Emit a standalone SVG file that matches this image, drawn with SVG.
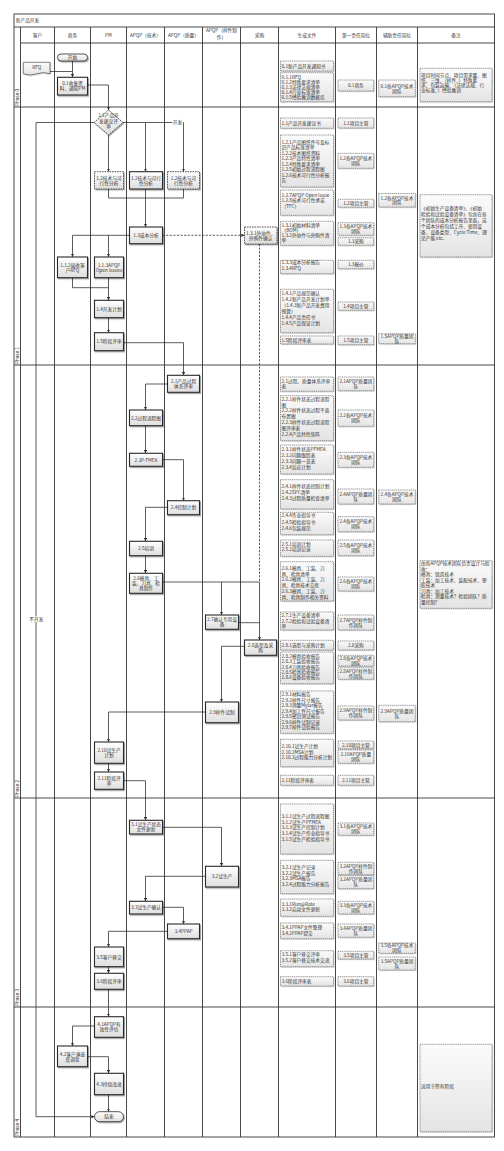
<svg xmlns="http://www.w3.org/2000/svg" width="504" height="1151" viewBox="0 0 504 1151">
<defs>
<style>
.t{font-family:"Noto Sans CJK SC","Noto Sans",sans-serif;font-size:4.7px;fill:#333}
.c{text-anchor:middle}
.ph{font-family:"Liberation Sans",sans-serif;font-size:4.7px;fill:#333}
.ln{stroke:#333;stroke-width:0.9;fill:none}
.cn{stroke:#333;stroke-width:0.8;fill:none}
.cnd{stroke:#333;stroke-width:0.8;fill:none;stroke-dasharray:2.2 1.4}
.nd{fill:url(#gN);stroke:#2a2a2a;stroke-width:1.1;filter:url(#sh)}
.ndd{fill:url(#gN);stroke:#2a2a2a;stroke-width:0.8;stroke-dasharray:1.6 0.9;filter:url(#sh)}
.dc{fill:url(#gD);stroke:#333;stroke-width:0.5;stroke-dasharray:1.2 0.7;filter:url(#sh2)}
</style>
<linearGradient id="gN" x1="0" y1="0" x2="0" y2="1"><stop offset="0" stop-color="#ffffff"/><stop offset="1" stop-color="#dedede"/></linearGradient>
<linearGradient id="gD" x1="0" y1="0" x2="0" y2="1"><stop offset="0" stop-color="#fbfbfb"/><stop offset="1" stop-color="#e4e4e4"/></linearGradient>
<filter id="sh" x="-20%" y="-20%" width="150%" height="160%"><feDropShadow dx="1" dy="1.2" stdDeviation="0.4" flood-color="#000" flood-opacity="0.35"/></filter>
<filter id="sh2" x="-20%" y="-20%" width="150%" height="160%"><feDropShadow dx="0.8" dy="0.8" stdDeviation="0.4" flood-color="#000" flood-opacity="0.2"/></filter>
<marker id="ar" viewBox="0 0 6 6" refX="6" refY="3" markerWidth="3.2" markerHeight="3.2" markerUnits="userSpaceOnUse" orient="auto"><path d="M0,0 L6,3 L0,6 Z" fill="#333"/></marker>
</defs>
<rect width="504" height="1151" fill="#fff"/>

<g id="frame">
<rect x="14" y="14" width="480.5" height="1123" class="ln"/>
<line x1="14" y1="27" x2="494.5" y2="27" class="ln"/>
<line x1="20.5" y1="43" x2="494.5" y2="43" class="ln"/>
<line x1="14" y1="107" x2="494.5" y2="107" class="ln"/>
<line x1="14" y1="365" x2="494.5" y2="365" class="ln"/>
<line x1="14" y1="798" x2="494.5" y2="798" class="ln"/>
<line x1="14" y1="1007" x2="494.5" y2="1007" class="ln"/>
<path class="ln" d="M20.5,27V1137M54.5,27V1137M90.5,27V1137M126.5,27V1137M164.5,27V1137M202.5,27V1137M240.5,27V1137M278.5,27V1137M335.5,27V1137M376.5,27V1137M417.5,27V1137"/>
<text class="t" x="15.8" y="22.2">新产品开发</text>
<text class="t c" x="37.5" y="36.7">客户</text>
<text class="t c" x="72.5" y="36.7">商务</text>
<text class="t c" x="108.5" y="36.7">PM</text>
<text class="t c" x="145.5" y="36.7">APQP（技术）</text>
<text class="t c" x="183.5" y="36.7">APQP（质量）</text>
<text class="t c"><tspan x="221.5" y="32.3">APQP（样件制</tspan><tspan x="221.5" y="38.8">作）</tspan></text>
<text class="t c" x="259.5" y="36.7">采购</text>
<text class="t c" x="307" y="36.7">生成文件</text>
<text class="t c" x="356" y="36.7">第一责任岗位</text>
<text class="t c" x="397" y="36.7">辅助责任岗位</text>
<text class="t c" x="456" y="36.7">备注</text>
<text class="ph" transform="translate(18.9,106) rotate(-90)">Phase 0</text>
<text class="ph" transform="translate(18.9,364) rotate(-90)">Phase 1</text>
<text class="ph" transform="translate(18.9,797) rotate(-90)">Phase 2</text>
<text class="ph" transform="translate(18.9,1006) rotate(-90)">Phase 3</text>
<text class="ph" transform="translate(18.9,1136) rotate(-90)">Phase 4</text>
</g>

<g id="connectors">
<path class="cn" marker-end="url(#ar)" d="M72.5,61V77.3"/>
<path class="cn" d="M50,71.5H72.5"/>
<path class="cn" marker-end="url(#ar)" d="M87.5,85H108.5V110"/>
<path class="cn" marker-end="url(#ar)" d="M108.5,135V171.7"/>
<path class="cn" marker-end="url(#ar)" d="M123,122.5H183.5V171.7"/>
<path class="cn" marker-end="url(#ar)" d="M145.5,122.5V171.7"/>
<path class="cn" marker-end="url(#ar)" d="M94,122.5H36V1116.7H94.5"/>
<path class="cn" d="M108.5,189V198H183.5V189"/>
<path class="cn" marker-end="url(#ar)" d="M145.5,189V227"/>
<path class="cnd" marker-end="url(#ar)" d="M162.5,235.3H244.5"/>
<path class="cn" marker-end="url(#ar)" d="M129.5,235.3H72.5V257"/>
<path class="cn" marker-end="url(#ar)" d="M108.5,235.3V257"/>
<path class="cn" d="M72.5,277.7V287.7H108.5"/>
<path class="cn" marker-end="url(#ar)" d="M108.5,277.7V300.3"/>
<path class="cn" marker-end="url(#ar)" d="M108.5,317.7V332.7"/>
<path class="cn" marker-end="url(#ar)" d="M123.5,342.7H183.5V375.3"/>
<path class="cn" marker-end="url(#ar)" d="M167.5,384H145.5V410"/>
<path class="cn" marker-end="url(#ar)" d="M145.5,425.7V453.3"/>
<path class="cn" marker-end="url(#ar)" d="M162.5,459.7H183.5V500.7"/>
<path class="cn" marker-end="url(#ar)" d="M167.5,507.3H145.5V541.3"/>
<path class="cn" marker-end="url(#ar)" d="M145.5,555.7V573.3"/>
<path class="cn" d="M162.5,582H259.5"/>
<path class="cn" marker-end="url(#ar)" d="M221.5,582V615"/>
<path class="cn" d="M238.5,622.7H259.5"/>
<path class="cnd" d="M259.5,244V582"/>
<path class="cn" marker-end="url(#ar)" d="M259.5,582V640"/>
<path class="cn" marker-end="url(#ar)" d="M244.5,646.3H221.5V702"/>
<path class="cn" marker-end="url(#ar)" d="M205.5,712H108.5V742"/>
<path class="cn" marker-end="url(#ar)" d="M108.5,763.3V772"/>
<path class="cn" marker-end="url(#ar)" d="M123.5,780.7H145.5V820.3"/>
<path class="cn" marker-end="url(#ar)" d="M162.5,827.3H221.5V866.3"/>
<path class="cn" marker-end="url(#ar)" d="M205.5,876.3H145.5V901.3"/>
<path class="cn" marker-end="url(#ar)" d="M162.5,907.3H183.5V924"/>
<path class="cn" marker-end="url(#ar)" d="M167.5,931.3H108.5V947"/>
<path class="cn" marker-end="url(#ar)" d="M108.5,966.7V973.3"/>
<path class="cn" marker-end="url(#ar)" d="M108.5,989.3V1016.7"/>
<path class="cn" marker-end="url(#ar)" d="M94.5,1026H72.5V1046"/>
<path class="cn" marker-end="url(#ar)" d="M87.5,1056.7H108.5V1073.3"/>
<path class="cn" marker-end="url(#ar)" d="M108.5,1094.7V1111.7"/>
<rect x="172.3" y="119.6" width="10.4" height="5.8" fill="#fff"/>
<text class="t c" x="177.5" y="124.3">开发</text>
<rect x="29.3" y="616.3" width="14" height="5.8" fill="#fff"/>
<text class="t c" x="36.3" y="621">不开发</text>
</g>

<g id="n-start"><rect x="57.5" y="54" width="30" height="7" rx="3.5" class="nd" style="stroke-width:0.8"/><text class="t c" x="72.5" y="59.2">开始</text></g>
<g id="n-rfq"><path d="M23.3,62.3H50V73.8Q43.5,71.3 36.7,73.8T23.3,73.8Z" class="dc" style="stroke-dasharray:none;stroke-width:0.6"/><text class="t c" x="36.7" y="69.4">RFQ</text></g>
<g id="n-01"><rect x="57.5" y="77.3" width="30" height="17.7" class="nd"/><text class="t c"><tspan x="72.5" y="85.4">0.1收集资</tspan><tspan x="72.5" y="90.3">料、通知PM</tspan></text></g>
<g id="n-11"><polygon points="108.5,110 123,122.5 108.5,135 94,122.5" class="nd" style="stroke-dasharray:1.6 0.9;stroke-width:0.8"/><text class="t c"><tspan x="108.5" y="117.2">1.1产品开</tspan><tspan x="108.5" y="122.6">发建议评</tspan><tspan x="108.5" y="128">审</tspan></text></g>
<g id="n-12a"><rect x="94.5" y="171.7" width="29" height="17.3" class="ndd"/><text class="t c"><tspan x="109" y="179.6">1.2技术与可</tspan><tspan x="109" y="184.5">行性分析</tspan></text></g>
<g id="n-12b"><rect x="129.5" y="171.7" width="33" height="17.3" class="nd"/><text class="t c"><tspan x="146" y="179.6">1.2技术与可行</tspan><tspan x="146" y="184.5">性分析</tspan></text></g>
<g id="n-12c"><rect x="167.5" y="171.7" width="32" height="17.3" class="ndd"/><text class="t c"><tspan x="183.5" y="179.6">1.2技术与可</tspan><tspan x="183.5" y="184.5">行性分析</tspan></text></g>
<g id="n-13"><rect x="129.5" y="227" width="33" height="16.7" class="nd"/><text class="t c" x="146" y="237.05">1.3成本分析</text></g>
<g id="n-131"><rect x="244.5" y="227" width="32.5" height="17" class="ndd"/><text class="t c"><tspan x="260.7" y="234.75">1.3.1外协件、</tspan><tspan x="260.7" y="239.65">外购件确认</tspan></text></g>
<g id="n-112"><rect x="57.5" y="257" width="30" height="20.7" class="nd"/><text class="t c"><tspan x="72.5" y="266.6">1.1.2接收客</tspan><tspan x="72.5" y="271.5">户RFQ</tspan></text></g>
<g id="n-113"><rect x="94.5" y="257" width="29" height="20.7" class="nd"/><text class="t c"><tspan x="109" y="266.6">1.1.3APQP</tspan><tspan x="109" y="271.5">Open Issues</tspan></text></g>
<g id="n-14"><rect x="94.5" y="300.3" width="29" height="17.4" class="nd"/><text class="t c" x="109" y="310.7">1.4开发计划</text></g>
<g id="n-15"><rect x="94.5" y="332.7" width="29" height="18" class="nd"/><text class="t c" x="109" y="343.4">1.5阶段评审</text></g>
<g id="n-21"><rect x="167.5" y="375.3" width="32" height="17" class="nd"/><text class="t c"><tspan x="183.5" y="383.05">2.1产品过程</tspan><tspan x="183.5" y="387.95">体系评审</tspan></text></g>
<g id="n-22"><rect x="129.5" y="410" width="33" height="15.7" class="nd"/><text class="t c" x="146" y="419.55">2.2过程流程图</text></g>
<g id="n-23"><rect x="129.5" y="453.3" width="33" height="13" class="nd"/><text class="t c" x="146" y="461.5">2.3P-FMEA</text></g>
<g id="n-24"><rect x="167.5" y="500.7" width="32" height="14" class="nd"/><text class="t c" x="183.5" y="509.4">2.4控制计划</text></g>
<g id="n-25"><rect x="129.5" y="541.3" width="33" height="14.4" class="nd"/><text class="t c" x="146" y="550.2">2.5培训</text></g>
<g id="n-26"><rect x="129.5" y="573.3" width="33" height="20" class="nd"/><text class="t c"><tspan x="146" y="580.1">2.6模具、工</tspan><tspan x="146" y="585">装、刀具、检</tspan><tspan x="146" y="589.9">具制作</tspan></text></g>
<g id="n-27"><rect x="205.5" y="615" width="33" height="14.3" class="nd"/><text class="t c"><tspan x="222" y="621.4">2.7确认专用设</tspan><tspan x="222" y="626.3">备</tspan></text></g>
<g id="n-28"><rect x="244.5" y="640" width="32" height="15.3" class="nd"/><text class="t c"><tspan x="260.5" y="646.9">2.8选型及采</tspan><tspan x="260.5" y="651.8">购</tspan></text></g>
<g id="n-29"><rect x="205.5" y="702" width="33" height="20.7" class="nd"/><text class="t c" x="222" y="714.05">2.9样件试制</text></g>
<g id="n-210"><rect x="94.5" y="742" width="29" height="21.3" class="nd"/><text class="t c"><tspan x="109" y="751.9">2.10试生产</tspan><tspan x="109" y="756.8">计划</tspan></text></g>
<g id="n-211"><rect x="94.5" y="772" width="29" height="17.3" class="nd"/><text class="t c"><tspan x="109" y="779.9">2.11阶段评</tspan><tspan x="109" y="784.8">审</tspan></text></g>
<g id="n-31"><rect x="129.5" y="820.3" width="33" height="13.7" class="nd"/><text class="t c"><tspan x="146" y="826.4">3.1试生产状态</tspan><tspan x="146" y="831.3">文件更新</tspan></text></g>
<g id="n-32"><rect x="205.5" y="866.3" width="33" height="20.7" class="nd"/><text class="t c" x="222" y="878.35">3.2试生产</text></g>
<g id="n-33"><rect x="129.5" y="901.3" width="33" height="12.7" class="nd"/><text class="t c" x="146" y="909.35">3.3试生产确认</text></g>
<g id="n-34"><rect x="167.5" y="924" width="32" height="14.7" class="nd"/><text class="t c" x="183.5" y="933.05">3.4PPAP</text></g>
<g id="n-35"><rect x="94.5" y="947" width="29" height="19.7" class="nd"/><text class="t c" x="109" y="958.55">3.5客户移交</text></g>
<g id="n-36"><rect x="94.5" y="973.3" width="29" height="16" class="nd"/><text class="t c" x="109" y="983">3.6阶段评审</text></g>
<g id="n-41"><rect x="94.5" y="1016.7" width="29" height="20.6" class="nd"/><text class="t c"><tspan x="109" y="1026.25">4.1APQP有</tspan><tspan x="109" y="1031.15">效性评估</tspan></text></g>
<g id="n-42"><rect x="57.5" y="1046" width="30" height="20.7" class="nd"/><text class="t c"><tspan x="72.5" y="1055.6">4.2客户满意</tspan><tspan x="72.5" y="1060.5">度调查</tspan></text></g>
<g id="n-43"><rect x="94.5" y="1073.3" width="29" height="21.4" class="nd"/><text class="t c" x="109" y="1085.7">4.3持续改进</text></g>
<g id="n-end"><rect x="94.5" y="1111.7" width="29" height="10" rx="5" class="nd" style="stroke-width:0.8"/><text class="t c" x="109" y="1118.4">结束</text></g>

<g id="docs">
<g id="d-0a"><rect x="280.5" y="61" width="53" height="10" class="dc"/><text class="t" x="281.5" y="67.7">0.1新产品开发通知书</text></g>
<g id="d-0b"><rect x="280.5" y="72.7" width="53" height="29" class="dc"/><text class="t"><tspan x="281.5" y="79.1">0.1.1RFQ</tspan><tspan x="281.5" y="84">0.1.2特殊要求清单</tspan><tspan x="281.5" y="88.9">0.1.3法律法规清单</tspan><tspan x="281.5" y="93.8">0.1.4行业标准清单</tspan><tspan x="281.5" y="98.7">0.1.5经验教训数据库</tspan></text></g>
<g id="d-1a"><rect x="280.5" y="118" width="53" height="10.3" class="dc"/><text class="t" x="281.5" y="124.85">1.1产品开发建议书</text></g>
<g id="d-1b"><rect x="280.5" y="135" width="53" height="52" class="dc"/><text class="t"><tspan x="281.5" y="143.5">1.2.1产品图纸件号及标</tspan><tspan x="281.5" y="149">识产品标准清单</tspan><tspan x="281.5" y="154.5">1.2.2技术图纸资料</tspan><tspan x="281.5" y="160">1.2.3产品特性清单</tspan><tspan x="281.5" y="165.5">1.2.4特殊要求清单</tspan><tspan x="281.5" y="171">1.2.5初始过程流程图</tspan><tspan x="281.5" y="176.5">1.2.6技术可行性分析报</tspan><tspan x="281.5" y="182">告</tspan></text></g>
<g id="d-1c"><rect x="280.5" y="190" width="53" height="25.3" class="dc"/><text class="t"><tspan x="281.5" y="196.5">1.2.7APQP Open Issue</tspan><tspan x="281.5" y="202.3">1.2.8技术可行性承诺</tspan><tspan x="281.5" y="208.1">（TFC）</tspan></text></g>
<g id="d-1d"><rect x="280.5" y="221.3" width="53" height="24" class="dc"/><text class="t"><tspan x="281.5" y="227">1.3.1初始材料清单</tspan><tspan x="281.5" y="232">（BOM）</tspan><tspan x="281.5" y="237">1.3.2外协件与外购件清</tspan><tspan x="281.5" y="242">单</tspan></text></g>
<g id="d-1e"><rect x="280.5" y="260.3" width="53" height="13.4" class="dc"/><text class="t"><tspan x="281.5" y="264.4">1.3.3成本分析报告</tspan><tspan x="281.5" y="269.7">1.3.4RFQ</tspan></text></g>
<g id="d-1f"><rect x="280.5" y="289.3" width="53" height="43.4" class="dc"/><text class="t"><tspan x="281.5" y="295.4">1.4.1产品规范确认</tspan><tspan x="281.5" y="301.4">1.4.2新产品开发计划单</tspan><tspan x="281.5" y="307.4">（1.4.3新产品开发费用</tspan><tspan x="281.5" y="313.4">预算）</tspan><tspan x="281.5" y="319.4">1.4.4产品责任书</tspan><tspan x="281.5" y="325.4">1.4.5产品保证计划</tspan></text></g>
<g id="d-1g"><rect x="280.5" y="336" width="53" height="8" class="dc"/><text class="t" x="281.5" y="341.7">1.5阶段评审表</text></g>
<g id="d-2a"><rect x="280.5" y="377" width="53" height="14.3" class="dc"/><text class="t"><tspan x="281.5" y="383.4">2.1过程、质量体系评审</tspan><tspan x="281.5" y="388.3">表</tspan></text></g>
<g id="d-2b"><rect x="280.5" y="395.7" width="53" height="45" class="dc"/><text class="t"><tspan x="281.5" y="400.7">2.2.1样件状态过程流程</tspan><tspan x="281.5" y="406.5">图</tspan><tspan x="281.5" y="412.4">2.2.2样件状态过程平面</tspan><tspan x="281.5" y="418.2">布置图</tspan><tspan x="281.5" y="424">2.2.3样件状态过程流程</tspan><tspan x="281.5" y="429.9">图评审表</tspan><tspan x="281.5" y="435.7">2.2.4产品特性矩阵</tspan></text></g>
<g id="d-2c"><rect x="280.5" y="445" width="53" height="29" class="dc"/><text class="t"><tspan x="281.5" y="451.4">2.3.1样件状态PFMEA</tspan><tspan x="281.5" y="457.3">2.3.2问题跟踪表</tspan><tspan x="281.5" y="463.1">2.3.3问题一览表</tspan><tspan x="281.5" y="469">2.3.4反应计划</tspan></text></g>
<g id="d-2d"><rect x="280.5" y="479.7" width="53" height="29.3" class="dc"/><text class="t"><tspan x="281.5" y="488.4">2.4.1样件状态控制计划</tspan><tspan x="281.5" y="494.2">2.4.2SPC清单</tspan><tspan x="281.5" y="500">2.4.3过程质量检查清单</tspan></text></g>
<g id="d-2e"><rect x="280.5" y="512.3" width="53" height="22.4" class="dc"/><text class="t"><tspan x="281.5" y="517.4">2.4.4作业指导书</tspan><tspan x="281.5" y="523.5">2.4.5检验指导书</tspan><tspan x="281.5" y="529.6">2.4.6包装规范</tspan></text></g>
<g id="d-2f"><rect x="280.5" y="540" width="53" height="16.3" class="dc"/><text class="t"><tspan x="281.5" y="545.7">2.5.1培训计划</tspan><tspan x="281.5" y="551.4">2.5.2培训记录</tspan></text></g>
<g id="d-2g"><rect x="280.5" y="561.7" width="53" height="39.3" class="dc"/><text class="t"><tspan x="281.5" y="570">2.6.1模具、工装、刀</tspan><tspan x="281.5" y="575.7">具、检具清单</tspan><tspan x="281.5" y="581.4">2.6.2模具、工装、刀</tspan><tspan x="281.5" y="587.1">具、检具技术交底</tspan><tspan x="281.5" y="592.8">2.6.3模具、工装、刀</tspan><tspan x="281.5" y="598.5">具、检具制作相关资料</tspan></text></g>
<g id="d-2h"><rect x="280.5" y="612" width="53" height="18" class="dc"/><text class="t"><tspan x="281.5" y="617">2.7.1生产设备清单</tspan><tspan x="281.5" y="622.5">2.7.2检验和试验设备清</tspan><tspan x="281.5" y="628">单</tspan></text></g>
<g id="d-2i"><rect x="280.5" y="640.3" width="53" height="9.7" class="dc"/><text class="t" x="281.5" y="646.85">2.8.1选型与采购计划</text></g>
<g id="d-2j"><rect x="280.5" y="652" width="53" height="31.7" class="dc"/><text class="t"><tspan x="281.5" y="657.7">2.8.2模具验收报告</tspan><tspan x="281.5" y="663.1">2.8.3工装验收报告</tspan><tspan x="281.5" y="668.5">2.8.4刀具验收报告</tspan><tspan x="281.5" y="673.9">2.8.5检具验收报告</tspan><tspan x="281.5" y="679.3">2.8.6设备验收报告</tspan></text></g>
<g id="d-2k"><rect x="280.5" y="691" width="53" height="42.3" class="dc"/><text class="t"><tspan x="281.5" y="696">2.9.1材料报告</tspan><tspan x="281.5" y="701.6">2.9.2样件尺寸报告</tspan><tspan x="281.5" y="707.1">2.9.3测量Mylar报告</tspan><tspan x="281.5" y="712.7">2.9.4加工件尺寸报告</tspan><tspan x="281.5" y="718.3">2.9.5密封测试报告</tspan><tspan x="281.5" y="723.9">2.9.6样件试制记录</tspan><tspan x="281.5" y="729.4">2.9.7样件试验报告</tspan></text></g>
<g id="d-2l"><rect x="280.5" y="739.3" width="53" height="27.4" class="dc"/><text class="t"><tspan x="281.5" y="747.7">2.10.1试生产计划</tspan><tspan x="281.5" y="753.5">2.10.2MSA计划</tspan><tspan x="281.5" y="759.3">2.10.3过程能力分析计划</tspan></text></g>
<g id="d-2m"><rect x="280.5" y="775.3" width="53" height="10" class="dc"/><text class="t" x="281.5" y="782">2.11阶段评审表</text></g>
<g id="d-3a"><rect x="280.5" y="804" width="53" height="50" class="dc"/><text class="t"><tspan x="281.5" y="818">3.1.1试生产过程流程图</tspan><tspan x="281.5" y="823.7">3.1.2试生产PFMEA</tspan><tspan x="281.5" y="829.4">3.1.3试生产控制计划</tspan><tspan x="281.5" y="835.1">3.1.4试生产作业指导书</tspan><tspan x="281.5" y="840.8">3.1.5试生产检验指导书</tspan></text></g>
<g id="d-3b"><rect x="280.5" y="860.3" width="53" height="33.4" class="dc"/><text class="t"><tspan x="281.5" y="868.7">3.2.1试生产记录</tspan><tspan x="281.5" y="874.5">3.2.2试生产报告</tspan><tspan x="281.5" y="880.3">3.2.3MSA报告</tspan><tspan x="281.5" y="886.1">3.2.4过程能力分析报告</tspan></text></g>
<g id="d-3c"><rect x="280.5" y="899" width="53" height="17.3" class="dc"/><text class="t"><tspan x="281.5" y="905.7">3.3.1Run@Rate</tspan><tspan x="281.5" y="911.4">3.3.2启动文件更新</tspan></text></g>
<g id="d-3d"><rect x="280.5" y="923" width="53" height="15.7" class="dc"/><text class="t"><tspan x="281.5" y="929">3.4.1PPAP文件整理</tspan><tspan x="281.5" y="934.7">3.4.2PPAP提交</tspan></text></g>
<g id="d-3e"><rect x="280.5" y="950.7" width="53" height="16" class="dc"/><text class="t"><tspan x="281.5" y="956.2">3.5.1客户移交评审</tspan><tspan x="281.5" y="961.9">3.5.2客户移交技术交流</tspan></text></g>
<g id="d-3f"><rect x="280.5" y="976.7" width="53" height="9.3" class="dc"/><text class="t" x="281.5" y="983">3.6阶段评审表</text></g>
</g>

<g id="owners">
<g id="f-01"><rect x="338" y="80" width="35.7" height="11" class="dc"/><text class="t c" x="355.85" y="87.2">0.1商务</text></g>
<g id="f-11"><rect x="338" y="118" width="35.7" height="10" class="dc"/><text class="t c" x="355.85" y="124.7">1.1项目主管</text></g>
<g id="f-12a"><rect x="338" y="153.3" width="35.7" height="15" class="dc"/><text class="t c"><tspan x="355.85" y="160.05">1.2各APQP技术</tspan><tspan x="355.85" y="164.95">团队</tspan></text></g>
<g id="f-12b"><rect x="338" y="199.3" width="35.7" height="8" class="dc"/><text class="t c" x="355.85" y="205">1.2项目主管</text></g>
<g id="f-13a"><rect x="338" y="222.7" width="35.7" height="12.6" class="dc"/><text class="t c"><tspan x="355.85" y="228.25">1.3各APQP技术</tspan><tspan x="355.85" y="233.15">团队</tspan></text></g>
<g id="f-13b"><rect x="338" y="237.7" width="35.7" height="7.6" class="dc"/><text class="t c" x="355.85" y="243.2">1.3采购</text></g>
<g id="f-13c"><rect x="338" y="260.3" width="35.7" height="8.4" class="dc"/><text class="t c" x="355.85" y="266.2">1.3报价</text></g>
<g id="f-14"><rect x="338" y="302" width="35.7" height="8.3" class="dc"/><text class="t c" x="355.85" y="307.85">1.4项目主管</text></g>
<g id="f-15"><rect x="338" y="336" width="35.7" height="8.7" class="dc"/><text class="t c" x="355.85" y="342.05">1.5项目主管</text></g>
<g id="f-21"><rect x="338" y="377" width="35.7" height="13.7" class="dc"/><text class="t c"><tspan x="355.85" y="383.1">2.1APQP质量团</tspan><tspan x="355.85" y="388">队</tspan></text></g>
<g id="f-22"><rect x="338" y="410" width="35.7" height="16.3" class="dc"/><text class="t c"><tspan x="355.85" y="417.4">2.2各APQP技术</tspan><tspan x="355.85" y="422.3">团队</tspan></text></g>
<g id="f-23"><rect x="338" y="452.3" width="35.7" height="15" class="dc"/><text class="t c"><tspan x="355.85" y="459.05">2.3各APQP技术</tspan><tspan x="355.85" y="463.95">团队</tspan></text></g>
<g id="f-24a"><rect x="338" y="489" width="35.7" height="15" class="dc"/><text class="t c"><tspan x="355.85" y="495.75">2.4APQP质量团</tspan><tspan x="355.85" y="500.65">队</tspan></text></g>
<g id="f-24b"><rect x="338" y="516.7" width="35.7" height="15" class="dc"/><text class="t c"><tspan x="355.85" y="523.45">2.4各APQP技术</tspan><tspan x="355.85" y="528.35">团队</tspan></text></g>
<g id="f-25"><rect x="338" y="540" width="35.7" height="15.7" class="dc"/><text class="t c"><tspan x="355.85" y="547.1">2.5各APQP技术</tspan><tspan x="355.85" y="552">团队</tspan></text></g>
<g id="f-26"><rect x="338" y="577" width="35.7" height="14" class="dc"/><text class="t c"><tspan x="355.85" y="583.25">2.6各APQP技术</tspan><tspan x="355.85" y="588.15">团队</tspan></text></g>
<g id="f-27"><rect x="338" y="615" width="35.7" height="15" class="dc"/><text class="t c"><tspan x="355.85" y="621.75">2.7APQP样件制</tspan><tspan x="355.85" y="626.65">作团队</tspan></text></g>
<g id="f-28a"><rect x="338" y="641" width="35.7" height="9" class="dc"/><text class="t c" x="355.85" y="647.2">2.8采购</text></g>
<g id="f-28b"><rect x="338" y="655.3" width="35.7" height="10.7" class="dc"/><text class="t c"><tspan x="355.85" y="659.9">2.8各APQP技术</tspan><tspan x="355.85" y="664.8">团队</tspan></text></g>
<g id="f-28c"><rect x="338" y="667.7" width="35.7" height="11.6" class="dc"/><text class="t c"><tspan x="355.85" y="672.75">2.8APQP样件制</tspan><tspan x="355.85" y="677.65">作团队</tspan></text></g>
<g id="f-29"><rect x="338" y="706" width="35.7" height="14" class="dc"/><text class="t c"><tspan x="355.85" y="712.25">2.9APQP样件制</tspan><tspan x="355.85" y="717.15">作团队</tspan></text></g>
<g id="f-210a"><rect x="338" y="741" width="35.7" height="7.7" class="dc"/><text class="t c" x="355.85" y="746.55">2.10项目主管</text></g>
<g id="f-210b"><rect x="338" y="750" width="35.7" height="13.3" class="dc"/><text class="t c"><tspan x="355.85" y="755.9">2.10APQP质量</tspan><tspan x="355.85" y="760.8">团队</tspan></text></g>
<g id="f-211"><rect x="338" y="775.3" width="35.7" height="10" class="dc"/><text class="t c" x="355.85" y="782">2.11项目主管</text></g>
<g id="f-31"><rect x="338" y="823" width="35.7" height="12.3" class="dc"/><text class="t c"><tspan x="355.85" y="828.4">3.1各APQP技术</tspan><tspan x="355.85" y="833.3">团队</tspan></text></g>
<g id="f-32a"><rect x="338" y="862.3" width="35.7" height="12.4" class="dc"/><text class="t c"><tspan x="355.85" y="867.75">3.2APQP样件制</tspan><tspan x="355.85" y="872.65">作团队</tspan></text></g>
<g id="f-32b"><rect x="338" y="875.7" width="35.7" height="13" class="dc"/><text class="t c"><tspan x="355.85" y="881.45">3.2APQP质量团</tspan><tspan x="355.85" y="886.35">队</tspan></text></g>
<g id="f-33"><rect x="338" y="901.3" width="35.7" height="12.7" class="dc"/><text class="t c"><tspan x="355.85" y="906.9">3.3各APQP技术</tspan><tspan x="355.85" y="911.8">团队</tspan></text></g>
<g id="f-34"><rect x="338" y="924" width="35.7" height="13.3" class="dc"/><text class="t c"><tspan x="355.85" y="929.9">3.4APQP质量团</tspan><tspan x="355.85" y="934.8">队</tspan></text></g>
<g id="f-35"><rect x="338" y="951.3" width="35.7" height="7.7" class="dc"/><text class="t c" x="355.85" y="956.85">3.5项目主管</text></g>
<g id="f-36"><rect x="338" y="976.7" width="35.7" height="9.3" class="dc"/><text class="t c" x="355.85" y="983.05">3.6项目主管</text></g>
</g>

<g id="assist">
<g id="a-01"><rect x="378.7" y="80" width="36.6" height="16.7" class="dc"/><text class="t c"><tspan x="397" y="87.6">0.1各APQP技术</tspan><tspan x="397" y="92.5">团队</tspan></text></g>
<g id="a-12"><rect x="378.7" y="193.5" width="36.6" height="13.5" class="dc"/><text class="t c"><tspan x="397" y="199.5">1.2各APQP技术</tspan><tspan x="397" y="204.4">团队</tspan></text></g>
<g id="a-15"><rect x="378.7" y="333.7" width="36.6" height="10" class="dc"/><text class="t c"><tspan x="397" y="337.95">1.5APQP质量团</tspan><tspan x="397" y="342.85">队</tspan></text></g>
<g id="a-24"><rect x="378.7" y="490" width="36.6" height="14" class="dc"/><text class="t c"><tspan x="397" y="496.25">2.4各APQP技术</tspan><tspan x="397" y="501.15">团队</tspan></text></g>
<g id="a-29"><rect x="378.7" y="705.3" width="36.6" height="16.4" class="dc"/><text class="t c"><tspan x="397" y="712.75">2.9APQP质量团</tspan><tspan x="397" y="717.65">队</tspan></text></g>
<g id="a-35a"><rect x="378.7" y="943" width="36.6" height="10.3" class="dc"/><text class="t c"><tspan x="397" y="947.4">3.5各APQP技术</tspan><tspan x="397" y="952.3">团队</tspan></text></g>
<g id="a-35b"><rect x="378.7" y="957" width="36.6" height="13" class="dc"/><text class="t c"><tspan x="397" y="962.75">3.5APQP质量团</tspan><tspan x="397" y="967.65">队</tspan></text></g>
</g>

<g id="remarks">
<g id="r-0"><rect x="420" y="68.3" width="72" height="33.4" class="dc"/><text class="t"><tspan x="421" y="76.7">项目时间节点、项目需求量、图</tspan><tspan x="421" y="81.7">纸、三维、（样件、）特殊要</tspan><tspan x="421" y="86.7">求、包装运输、（法律法规、行</tspan><tspan x="421" y="91.7">业标准、）经验教训</tspan></text></g>
<g id="r-1"><rect x="420" y="194.7" width="72" height="62.3" class="dc"/><text class="t"><tspan x="421" y="210.4">《初始生产设备清单》、《初始</tspan><tspan x="421" y="216.4">检验和试验设备清单》包含在各</tspan><tspan x="421" y="222.4">个团队的成本分析报告里面，这</tspan><tspan x="421" y="228.4">个成本分析包括工序、使用设</tspan><tspan x="421" y="234.4">备、设备类型、Cycle Time、理</tspan><tspan x="421" y="240.4">论产能 etc.</tspan></text></g>
<g id="r-2"><rect x="420" y="560.7" width="72" height="47.6" class="dc"/><text class="t"><tspan x="421" y="565.3">由各APQP技术团队负责设计与验</tspan><tspan x="421" y="570.8">收：</tspan><tspan x="421" y="576.3">模具：锻造技术</tspan><tspan x="421" y="581.8">工装：加工技术、装配技术、塑</tspan><tspan x="421" y="587.3">胶技术</tspan><tspan x="421" y="592.8">刀具：加工技术</tspan><tspan x="421" y="598.3">检具：测量技术？检验团队？质</tspan><tspan x="421" y="603.8">量控制？</tspan></text></g>
<g id="r-4"><rect x="420" y="1044.3" width="72" height="87.4" class="dc"/><text class="t" x="421" y="1088.4">适用于所有阶段</text></g>
</g>
</svg>
